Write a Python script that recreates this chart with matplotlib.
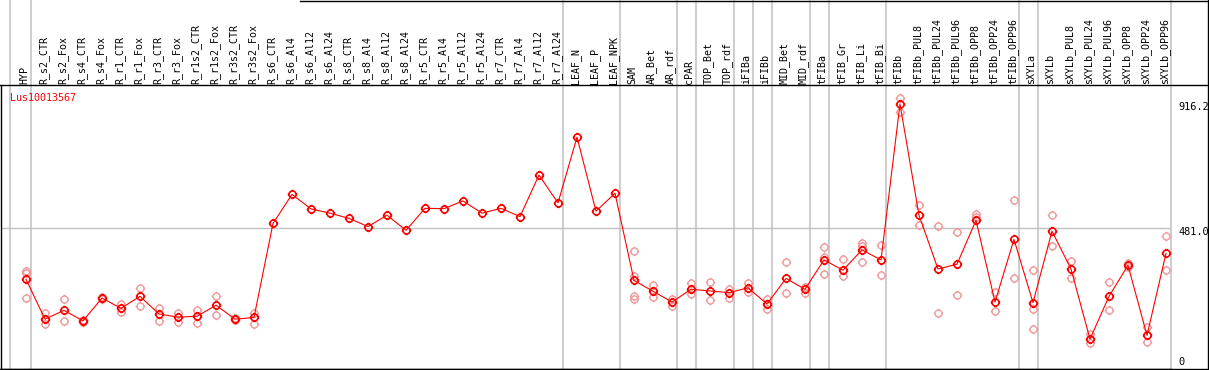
import matplotlib
matplotlib.use("Agg")
import matplotlib.pyplot as plt
from matplotlib.lines import Line2D
from matplotlib.path import Path
from matplotlib import transforms

# ---- data -----------------------------------------------------------------
GENE = "Lus10013567"

LABELS = [
    "HYP", "R_s2_CTR", "R_s2_Fox", "R_s4_CTR", "R_s4_Fox", "R_r1_CTR", "R_r1_Fox",
    "R_r3_CTR", "R_r3_Fox", "R_r1s2_CTR", "R_r1s2_Fox", "R_r3s2_CTR", "R_r3s2_Fox",
    "R_s6_CTR", "R_s6_Al4", "R_s6_Al12", "R_s6_Al24", "R_s8_CTR", "R_s8_Al4",
    "R_s8_Al12", "R_s8_Al24", "R_r5_CTR", "R_r5_Al4", "R_r5_Al12", "R_r5_Al24",
    "R_r7_CTR", "R_r7_Al4", "R_r7_Al12", "R_r7_Al24", "LEAF_N", "LEAF_P", "LEAF_NPK",
    "SAM", "AR_Bet", "AR_rdf", "cPAR", "TOP_Bet", "TOP_rdf", "iFIBa", "iFIBb",
    "MID_Bet", "MID_rdf", "tFIBa", "tFIB_Gr", "tFIB_Li", "tFIB_Bi", "tFIBb",
    "tFIBb_PUL8", "tFIBb_PUL24", "tFIBb_PUL96", "tFIBb_OPP8", "tFIBb_OPP24",
    "tFIBb_OPP96", "sXYLa", "sXYLb", "sXYLb_PUL8", "sXYLb_PUL24", "sXYLb_PUL96",
    "sXYLb_OPP8", "sXYLb_OPP24", "sXYLb_OPP96",
]

MEANS = [
    301, 161, 192, 155, 235, 199, 241, 179, 168, 171, 210, 161, 167,
    497, 599, 548, 533, 515, 486, 526, 473, 550, 549, 576, 533, 550, 521, 667, 569,
    800, 540, 603,
    297, 259, 221, 266, 260, 254, 271, 214, 304, 266,
    369, 333, 404, 369, 916.2,
    526, 337, 354, 508, 221, 441,
    219, 470, 337, 91, 241, 350, 104, 392,
]

REPS = [
    [331, 324, 234], [181, 143], [231, 153], [158, 151], [239, 232], [214, 187],
    [269, 208], [199, 155], [184, 150], [193, 148], [242, 174], [165, 158], [184, 145],
    [], [], [], [], [], [], [], [], [], [], [], [], [], [], [], [], [], [], [],
    [399, 313, 242, 231], [281, 238], [232, 208], [289, 248], [291, 227], [268, 234],
    [287, 255], [231, 197], [361, 252], [275, 254],
    [414, 378, 319], [372, 312], [427, 419, 363], [421, 315], [936, 889],
    [561, 490], [488, 181], [466, 246], [531, 521], [256, 190], [578, 304],
    [332, 196, 125], [527, 418], [365, 304], [109, 76], [291, 193], [358, 344],
    [134, 80], [453, 332],
]

# columns after which a grey separator is drawn
GROUP_ENDS = [0, 28, 31, 34, 35, 37, 38, 39, 41, 42, 45, 52, 53]
YTICKS = [(916.2, "916.2"), (481.0, "481.0"), (0, "0")]

# ---- layout (pixels of a 1209x370 canvas) ---------------------------------
W, H = 1209, 370
GREY = "#c0c0c0"
RED = "#ff0000"
PINK = "#ee9a9a"
FONT = "DejaVu Sans Mono"

fig = plt.figure(figsize=(W / 100, H / 100), dpi=100)


def fx(px):
    return px / W


def fy(py):
    return (H - py) / H


ax_l, ax_r, ax_t, ax_b = 1, 1170.7, 85, 368.5
ax = fig.add_axes([fx(ax_l), fy(ax_b), fx(ax_r - ax_l), (ax_b - ax_t) / H])
# column i sits at pixel 26 + 19 * i
ax.set_xlim((ax_l - 26) / 19, (ax_r - 26) / 19)
ax.set_ylim(-12.3, 983.1)
ax.set_xticks([])
ax.set_yticks([])
for s in ["top", "right"]:
    ax.spines[s].set_visible(False)
for s in ["left", "bottom"]:
    ax.spines[s].set_linewidth(1.0)

# grid / separators
ax.axhline(481.0, color=GREY, lw=1.0, zorder=1)
top_frac = ax_b / (ax_b - ax_t)
for k in GROUP_ENDS:
    ax.axvline(k + 0.24, 0, top_frac, color=GREY, lw=1.1, clip_on=False, zorder=1)
ax.axvline(-0.82, 0, top_frac, color=GREY, lw=1.1, clip_on=False, zorder=1)
ax.axvline((ax_r - 26) / 19, 0, top_frac, color=GREY, lw=1.1, clip_on=False, zorder=1)

# marker: open circle with four small ticks
ticks = Path([[0, 1], [0, 1.35], [0, -1], [0, -1.35], [1, 0], [1.35, 0], [-1, 0], [-1.35, 0]],
             [Path.MOVETO, Path.LINETO] * 4)
mk = Path.make_compound_path(Path.unit_circle(), ticks)

xs = list(range(len(LABELS)))
rx = [i for i, r in enumerate(REPS) for _ in r]
ry = [v for r in REPS for v in r]
ax.plot(rx, ry, ls="none", marker=mk, ms=6.8, mfc="none", mec=PINK, mew=1.0, zorder=2)
ax.plot(xs, MEANS, color=RED, lw=0.8, zorder=3)
ax.plot(xs, MEANS, ls="none", marker=mk, ms=6.8, mfc="none", mec=RED, mew=1.2, zorder=4)

# column labels in the header
tr = transforms.blended_transform_factory(ax.transData, fig.transFigure)
for i, lab in enumerate(LABELS):
    ax.text(i - 0.08, fy(83.5), lab, transform=tr, rotation=90, ha="center",
            va="bottom", fontsize=7.2, family=FONT, color="black", clip_on=False)

fig.text(fx(10), fy(97.7), GENE, color=RED, fontsize=7.2, family=FONT,
         ha="left", va="center")

for val, txt in YTICKS:
    ypx = 365 - val * 0.2848 + (4 if val < 900 else 3) if val > 0 else 361.7
    fig.text(fx(1178), fy(ypx), txt, fontsize=7.4, family=FONT, ha="left", va="center")

# outer frame and header rule
for line in [
    ([fx(0), fx(W)], [fy(ax_t), fy(ax_t)]),
    ([fx(300), fx(W)], [fy(0.5), fy(0.5)]),
    ([fx(W - 1), fx(W - 1)], [fy(0), fy(H)]),
    ([fx(0), fx(W)], [fy(ax_b), fy(ax_b)]),
]:
    fig.add_artist(Line2D(line[0], line[1], color="black", lw=1.0))

fig.savefig("out.png", dpi=100)
